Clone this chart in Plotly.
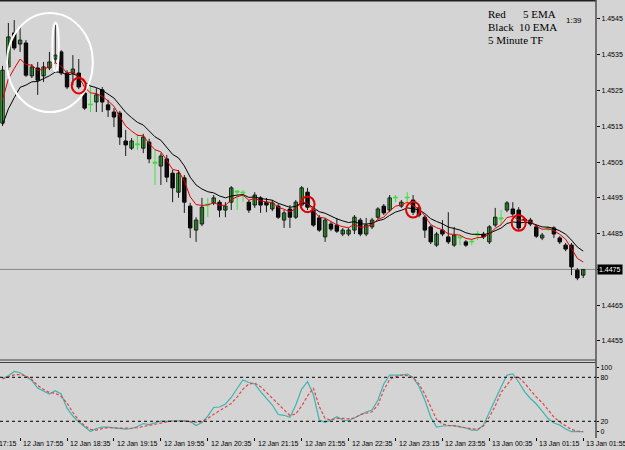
import plotly.graph_objects as go

# ---------------- data (EURUSD-like 5 minute bars, 12 Jan 17:40 .. 13 Jan 01:55) ----------------
open_ = [1.45159, 1.45316, 1.45411, 1.45380, 1.45383, 1.45291, 1.45313, 1.45291, 1.45313, 1.45338,
         1.45358, 1.45299, 1.45299, 1.45299, 1.45243, 1.45210, 1.45218, 1.45252, 1.45210, 1.45190,
         1.45187, 1.45109, 1.45089, 1.45098, 1.45089, 1.45106, 1.45047, 1.45039, 1.45059, 1.45019,
         1.44966, 1.45006, 1.44927, 1.44860, 1.44877, 1.44930, 1.44936, 1.44938, 1.44916, 1.44938,
         1.44966, 1.44964, 1.44938, 1.44930, 1.44950, 1.44938, 1.44919, 1.44927, 1.44888, 1.44919,
         1.44896, 1.44930, 1.44966, 1.44916, 1.44894, 1.44841, 1.44877, 1.44874, 1.44849, 1.44849,
         1.44860, 1.44888, 1.44849, 1.44869, 1.44896, 1.44927, 1.44916, 1.44950, 1.44927, 1.44950,
         1.44944, 1.44922, 1.44896, 1.44869, 1.44818, 1.44860, 1.44841, 1.44818, 1.44838, 1.44827,
         1.44827, 1.44846, 1.44849, 1.44827, 1.44874, 1.44891, 1.44916, 1.44919, 1.44916, 1.44891,
         1.44888, 1.44869, 1.44838, 1.44863, 1.44866, 1.44838, 1.44818, 1.44818, 1.44748, 1.44734]

high = [1.45319, 1.45439, 1.45447, 1.45428, 1.45391, 1.45324, 1.45330, 1.45330, 1.45358, 1.45433,
        1.45363, 1.45307, 1.45349, 1.45338, 1.45252, 1.45265, 1.45257, 1.45260, 1.45224, 1.45201,
        1.45193, 1.45140, 1.45117, 1.45129, 1.45129, 1.45115, 1.45084, 1.45075, 1.45070, 1.45028,
        1.45028, 1.45014, 1.44936, 1.44896, 1.44950, 1.44950, 1.44958, 1.44944, 1.44938, 1.44983,
        1.44972, 1.44972, 1.44944, 1.44966, 1.44955, 1.44950, 1.44944, 1.44933, 1.44916, 1.44930,
        1.44944, 1.44983, 1.44978, 1.44927, 1.44902, 1.44894, 1.44883, 1.44894, 1.44866, 1.44866,
        1.44902, 1.44894, 1.44894, 1.44894, 1.44924, 1.44933, 1.44958, 1.44958, 1.44944, 1.44966,
        1.44958, 1.44927, 1.44902, 1.44874, 1.44855, 1.44888, 1.44910, 1.44869, 1.44843, 1.44832,
        1.44835, 1.44857, 1.44855, 1.44874, 1.44922, 1.44916, 1.44941, 1.44938, 1.44924, 1.44896,
        1.44894, 1.44874, 1.44852, 1.44871, 1.44871, 1.44843, 1.44824, 1.44824, 1.44754, 1.44750]

low = [1.45151, 1.45307, 1.45363, 1.45358, 1.45288, 1.45285, 1.45238, 1.45274, 1.45307, 1.45327,
       1.45293, 1.45254, 1.45265, 1.45254, 1.45196, 1.45190, 1.45190, 1.45190, 1.45176, 1.45148,
       1.45098, 1.45067, 1.45084, 1.45084, 1.45075, 1.45047, 1.44986, 1.44986, 1.44994, 1.44938,
       1.44950, 1.44908, 1.44838, 1.44827, 1.44871, 1.44896, 1.44930, 1.44896, 1.44896, 1.44916,
       1.44916, 1.44938, 1.44908, 1.44922, 1.44908, 1.44910, 1.44913, 1.44891, 1.44866, 1.44866,
       1.44891, 1.44924, 1.44916, 1.44869, 1.44855, 1.44827, 1.44857, 1.44852, 1.44843, 1.44843,
       1.44849, 1.44843, 1.44843, 1.44863, 1.44891, 1.44902, 1.44910, 1.44938, 1.44922, 1.44938,
       1.44902, 1.44896, 1.44838, 1.44821, 1.44813, 1.44843, 1.44821, 1.44813, 1.44818, 1.44813,
       1.44818, 1.44832, 1.44835, 1.44821, 1.44869, 1.44874, 1.44910, 1.44899, 1.44860, 1.44883,
       1.44871, 1.44838, 1.44832, 1.44857, 1.44838, 1.44821, 1.44801, 1.44734, 1.44720, 1.44726]

close = [1.45307, 1.45400, 1.45369, 1.45391, 1.45293, 1.45316, 1.45279, 1.45316, 1.45330, 1.45349,
         1.45299, 1.45260, 1.45310, 1.45260, 1.45201, 1.45212, 1.45238, 1.45218, 1.45196, 1.45176,
         1.45120, 1.45098, 1.45109, 1.45101, 1.45120, 1.45059, 1.45050, 1.45067, 1.45008, 1.44978,
         1.45019, 1.44938, 1.44866, 1.44888, 1.44924, 1.44933, 1.44950, 1.44916, 1.44927, 1.44978,
         1.44969, 1.44966, 1.44916, 1.44958, 1.44930, 1.44930, 1.44936, 1.44896, 1.44908, 1.44896,
         1.44938, 1.44978, 1.44924, 1.44874, 1.44860, 1.44888, 1.44863, 1.44857, 1.44860, 1.44860,
         1.44896, 1.44849, 1.44874, 1.44888, 1.44919, 1.44908, 1.44950, 1.44952, 1.44938, 1.44952,
         1.44910, 1.44902, 1.44860, 1.44827, 1.44849, 1.44849, 1.44827, 1.44846, 1.44841, 1.44818,
         1.44829, 1.44849, 1.44841, 1.44869, 1.44896, 1.44894, 1.44936, 1.44905, 1.44866, 1.44888,
         1.44877, 1.44843, 1.44846, 1.44866, 1.44849, 1.44827, 1.44807, 1.44757, 1.44726, 1.44750]

# EMA values at the first visible bar
ema5_seed = 1.45224
ema10_seed = 1.45154

# Stochastic %K (teal) and %D (red dashed)
stoch_k = [78.4, 82, 88, 86.3, 81, 75.6, 65.4, 61.3, 57.2, 61.7,
           57.2, 38, 27.2, 19, 12.2, 6, 10.2, 12.2, 12.2, 11.2,
           9.5, 9.3, 10.2, 12.9, 17, 15.4, 18, 20.4, 20, 20.4,
           21.5, 21, 19.7, 14.3, 18.4, 27.2, 38.8, 39.5, 43.6, 52.5,
           64.8, 76.3, 72.9, 70.9, 60.6, 51.8, 42.2, 29.3, 28.2, 25.6,
           42.2, 64, 74, 56.5, 21.8, 18.6, 21.8, 26.3, 21.8, 20.8,
           25.2, 28.6, 32.7, 35.4, 49, 70.9, 83.1, 83.1, 83.1, 84.5,
           79.7, 67.5, 49, 25.8, 12.2, 13.6, 14.3, 14.3, 12.5, 10.9,
           8.1, 8.1, 15, 32.7, 51.1, 66.8, 83.1, 84.5, 73.6, 60.4,
           51.1, 43.6, 34, 23.8, 17.7, 15, 9.5, 5.8, 5.8, 6]

stoch_d = [77.7, 80.4, 83.4, 83.8, 81.8, 77, 68.8, 63.6, 59.3, 58.3,
           53.8, 45, 32, 21.8, 13.9, 9.1, 8.1, 10, 11.4, 10.9,
           10.5, 10.5, 10.5, 11.3, 12.9, 14.3, 16.6, 18.2, 19.5, 20.7,
           20.7, 20.1, 19.5, 18.8, 19.6, 23.8, 29.5, 34.7, 38.8, 44.3,
           53.1, 64, 70.9, 72.2, 67.3, 59.3, 51.1, 43.6, 35.4, 27.9,
           30, 40.9, 54.5, 65.4, 40.2, 23.8, 21.6, 24.1, 24.1, 23.4,
           24.5, 29.3, 31, 33, 42.2, 62.5, 77, 80.7, 83.1, 82.2,
           79.7, 70.9, 57.2, 39.5, 22.5, 16.3, 14.5, 13.9, 12.5, 10.9,
           9.8, 9.2, 13.6, 25.8, 40.9, 59.3, 70.2, 80, 80, 72.2,
           62.5, 53.1, 45.6, 36.1, 25.8, 19, 13.6, 8.8, 6.8, 5.8]

price_ticks = [1.4545, 1.4535, 1.4525, 1.4515, 1.4505, 1.4495, 1.4485, 1.4475, 1.4465, 1.4455]
bid_price = 1.4475

time_tick_bars = [-5, 3, 11, 19, 27, 35, 43, 51, 59, 67, 75, 83, 91, 99]
time_tick_labels = ["12 Jan 17:15", "12 Jan 17:55", "12 Jan 18:35", "12 Jan 19:15", "12 Jan 19:55",
                    "12 Jan 20:35", "12 Jan 21:15", "12 Jan 21:55", "12 Jan 22:35", "12 Jan 23:15",
                    "12 Jan 23:55", "13 Jan 00:35", "13 Jan 01:15", "13 Jan 01:55"]

stoch_levels = [80, 20]
stoch_tickvals = [94, 80, 20, 6]
stoch_ticktext = ["100", "80", "20", "0"]

# marked signal bars (bar index, centre price) for red circles
signal_bars = [13, 52, 70, 88]
signal_prices = [1.45264, 1.44932, 1.44917, 1.44880]

# ---------------- derived ----------------
n = len(close)
idx = list(range(n))

ema5 = [ema5_seed]
ema10 = [ema10_seed]
for c in close[1:]:
    ema5.append(ema5[-1] + (2 / 6) * (c - ema5[-1]))
    ema10.append(ema10[-1] + (2 / 11) * (c - ema10[-1]))

BG = "#d4d4d4"
GREEN = "#33cc33"
DOJI_GREEN = "#3ee03e"
DARK = "#1a1a1a"
FONT = "Liberation Sans"

xdom = [0.0, 596 / 625]
xr = [-0.426, 101.18]
ydom_main = [0.2, 0.99778]
yr_main = [1.444969, 1.455003]
ydom_st = [0.02889, 0.19444]
yr_st = [-1.4, 100.2]


def x_paper(v):
    return xdom[0] + (v - xr[0]) / (xr[1] - xr[0]) * (xdom[1] - xdom[0])


doji = [abs(close[i] - open_[i]) <= 0.00003 and close[i] >= open_[i] for i in idx]
bull = [close[i] > open_[i] and not doji[i] for i in idx]
bear = [close[i] <= open_[i] and not doji[i] for i in idx]

fig = go.Figure()


def wick_xy(sel):
    xs, ys = [], []
    for i in idx:
        if sel[i]:
            xs += [i, i, None]
            ys += [low[i], high[i], None]
    return xs, ys


wx, wy = wick_xy([not d for d in doji])
fig.add_trace(go.Scatter(x=wx, y=wy, mode="lines", line=dict(color=DARK, width=1),
                         hoverinfo="skip", xaxis="x", yaxis="y"))
wx, wy = wick_xy(doji)
fig.add_trace(go.Scatter(x=wx, y=wy, mode="lines", line=dict(color=DOJI_GREEN, width=1),
                         hoverinfo="skip", xaxis="x", yaxis="y"))


def body(sel, fill, edge, w):
    xs = [i for i in idx if sel[i]]
    base = [min(open_[i], close[i]) for i in xs]
    h = [max(abs(close[i] - open_[i]), 0.00002) for i in xs]
    fig.add_trace(go.Bar(x=xs, y=h, base=base, width=w,
                         marker=dict(color=fill, line=dict(color=edge, width=1)),
                         hoverinfo="skip", xaxis="x", yaxis="y"))


body(bull, GREEN, DARK, 0.58)
body(bear, "#000000", "#000000", 0.58)
body(doji, DOJI_GREEN, DOJI_GREEN, 0.7)

# EMAs
fig.add_trace(go.Scatter(x=idx, y=ema10, mode="lines", line=dict(color="#000000", width=1),
                         hoverinfo="skip", xaxis="x", yaxis="y"))
fig.add_trace(go.Scatter(x=idx, y=ema5, mode="lines", line=dict(color="#e00000", width=1),
                         hoverinfo="skip", xaxis="x", yaxis="y"))

# Stochastic
fig.add_trace(go.Scatter(x=idx, y=stoch_k, mode="lines", line=dict(color="#3fb3b0", width=1.2),
                         hoverinfo="skip", xaxis="x2", yaxis="y2"))
fig.add_trace(go.Scatter(x=idx, y=stoch_d, mode="lines",
                         line=dict(color="#e04848", width=1.2, dash="3px,2px"),
                         hoverinfo="skip", xaxis="x2", yaxis="y2"))

shapes = []
# frame lines
shapes.append(dict(type="line", xref="paper", yref="paper", x0=0, x1=xdom[1], y0=449.3 / 450, y1=449.3 / 450,
                   line=dict(color="#202020", width=1.5)))
shapes.append(dict(type="line", xref="paper", yref="paper", x0=0, x1=xdom[1], y0=ydom_main[0], y1=ydom_main[0],
                   line=dict(color="#404040", width=1)))
shapes.append(dict(type="line", xref="paper", yref="paper", x0=0, x1=xdom[1], y0=ydom_st[1], y1=ydom_st[1],
                   line=dict(color="#404040", width=1)))
shapes.append(dict(type="line", xref="paper", yref="paper", x0=xdom[1], x1=xdom[1], y0=12 / 450, y1=1,
                   line=dict(color="#505050", width=1.5)))
# bid line
shapes.append(dict(type="line", xref="paper", yref="y", x0=0, x1=xdom[1], y0=bid_price, y1=bid_price,
                   line=dict(color="#8a8a8a", width=1), layer="below"))
# stochastic levels
for lv in stoch_levels:
    shapes.append(dict(type="line", xref="paper", yref="y2", x0=0, x1=xdom[1], y0=lv, y1=lv,
                       line=dict(color="#000000", width=1, dash="dot")))
# white circle annotation around the top area
shapes.append(dict(type="circle", xref="x", yref="y", x0=0.77, x1=15.4, y0=1.45190, y1=1.45467,
                   line=dict(color="#ffffff", width=2)))
shapes.append(dict(type="circle", xref="x", yref="y", x0=8.5, x1=9.6, y0=1.45305, y1=1.45440,
                   line=dict(color="#ffffff", width=2)))
# red circles at signal bars
for b, p in zip(signal_bars, signal_prices):
    shapes.append(dict(type="circle", xref="x", yref="y", x0=b - 1.2, x1=b + 1.2,
                       y0=p - 0.00022, y1=p + 0.00022, line=dict(color="#e00000", width=2)))

annotations = []
for b, lab in zip(time_tick_bars, time_tick_labels):
    annotations.append(dict(text=lab, xref="paper", yref="paper", x=x_paper(b), y=7 / 450,
                            xanchor="left", yanchor="middle", xshift=1, showarrow=False,
                            font=dict(family=FONT, size=7, color="#000000")))

serif = dict(family="Liberation Serif", size=11, color="#000000")
for txt, px, py in [("Red", 486, 14), ("5 EMA", 521, 14), ("Black", 486, 27), ("10 EMA", 517, 27),
                    ("5 Minute TF", 486, 40)]:
    annotations.append(dict(text=txt, xref="paper", yref="paper", x=px / 625, y=(450 - py) / 450,
                            xanchor="left", yanchor="middle", showarrow=False, font=serif))
annotations.append(dict(text="1:39", xref="paper", yref="paper", x=564 / 625, y=(450 - 21) / 450,
                        xanchor="left", yanchor="middle", showarrow=False,
                        font=dict(family=FONT, size=8, color="#000000")))
annotations.append(dict(text="%.4f" % bid_price, xref="paper", yref="y", x=597 / 625, y=bid_price,
                        xanchor="left", yanchor="middle", showarrow=False, bgcolor="#000000",
                        borderpad=1, font=dict(family=FONT, size=7, color="#ffffff")))

# the bid label replaces the ordinary tick label at the same level
price_ticktext = ["" if abs(t - bid_price) < 1e-9 else "%.4f" % t for t in price_ticks]

fig.update_layout(
    width=625, height=450, margin=dict(l=0, r=0, t=0, b=0),
    paper_bgcolor=BG, plot_bgcolor=BG, showlegend=False, barmode="overlay",
    shapes=shapes, annotations=annotations,
    xaxis=dict(domain=xdom, range=xr, anchor="y", showgrid=False, zeroline=False,
               showticklabels=False, ticks="", fixedrange=True),
    yaxis=dict(domain=ydom_main, range=yr_main, side="right", anchor="x", showgrid=False,
               zeroline=False, tickvals=price_ticks, ticktext=price_ticktext,
               ticks="outside", ticklen=3, tickcolor="#000000", showline=False,
               tickfont=dict(family=FONT, size=7, color="#000000")),
    xaxis2=dict(domain=xdom, range=xr, anchor="y2", matches="x", showgrid=False, zeroline=False,
                showticklabels=False, tickvals=time_tick_bars, ticks="outside", ticklen=3,
                tickcolor="#000000", showline=False),
    yaxis2=dict(domain=ydom_st, range=yr_st, side="right", anchor="x2", showgrid=False,
                zeroline=False, tickvals=stoch_tickvals, ticktext=stoch_ticktext,
                ticks="outside", ticklen=2, tickcolor="#000000", showline=False,
                tickfont=dict(family=FONT, size=7, color="#000000")),
)

fig.write_html("out.html")
